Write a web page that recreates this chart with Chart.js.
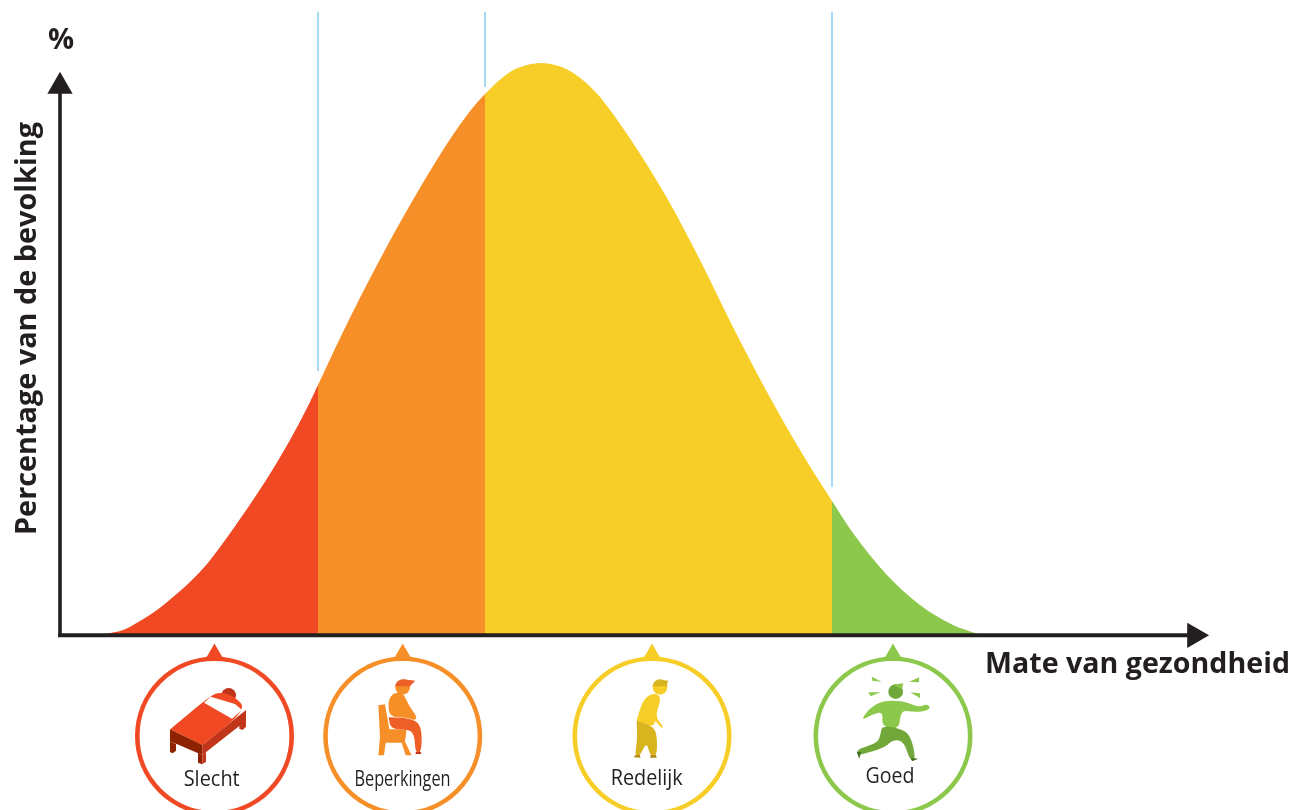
<!DOCTYPE html>
<html>
<head>
<meta charset="utf-8">
<title>Mate van gezondheid</title>
<script src="https://cdn.jsdelivr.net/npm/chart.js@4"></script>
<style>
    html, body { margin: 0; padding: 0; background: #fff; overflow: hidden; }
    canvas { display: block; }
</style>
</head>
<body>
<canvas id="chart" width="1295" height="810"></canvas>
<script>
// data
const curveX = [45, 63, 80, 97, 113, 130, 147, 163, 180, 197, 213, 230, 247, 258, 283, 317, 350, 383, 407, 425, 450, 465, 481, 497, 510, 525, 540, 573, 607, 640, 673, 707, 740, 772, 793, 827, 860, 893, 915, 918];
const curveY = [0, 4, 13, 24, 37, 52, 70, 91, 115, 140, 165, 194, 226, 249, 302, 369, 429, 484, 519, 540, 562, 568.5, 571, 568.5, 563, 552, 537, 491, 436, 374, 307, 242, 184, 133, 101, 59, 29, 9, 1, 0];
const bandEdges = [45, 258, 425, 772, 918];
const bandColors = ["#f04923", "#f78f28", "#f6ce27", "#8cc84b"];
const edgeTops = [263, 547, 147];
const categories = ["Slecht", "Beperkingen", "Redelijk", "Goed"];
const categoryX = [154.5, 342.7, 592, 833];
const categoryLabelX = [211.7, 402.5, 646.7, 890];
const categoryLabelY = [786, 786, 785, 783];
const categoryLabelW = [56, 96, 72, 49];
const xTitle = "Mate van gezondheid";
const yTitle = "Percentage van de bevolking";
const yUnit = "%";

const circleY = -102;
const markerY = -21;
const axisY = -1.3;
const ink = "#231f20";

// which band a piece of the curve falls in
function bandColor(x) {
    for (let b = 0; b < bandColors.length; b++) {
        if (x < bandEdges[b + 1]) return bandColors[b];
    }
    return bandColors[bandColors.length - 1];
}

const edgeLines = edgeTops.map((top, i) => ({
    data: [{ x: bandEdges[i + 1], y: top }, { x: bandEdges[i + 1], y: 622 }],
    borderColor: "#a5dcf5",
    borderWidth: 2,
    pointRadius: 0,
    fill: false
}));

const datasets = [
    // arrow heads
    {
        data: [{ x: 1134.5, y: axisY }, { x: 0, y: 547.6 }],
        showLine: false,
        pointStyle: "triangle",
        pointRadius: 14.6,
        pointBorderWidth: 0,
        pointRotation: [90, 0],
        pointBackgroundColor: ink
    },
    // axis lines
    { data: [{ x: -2, y: axisY }, { x: 1128, y: axisY }], borderColor: ink, borderWidth: 4, pointRadius: 0, fill: false },
    { data: [{ x: 0, y: axisY }, { x: 0, y: 542 }], borderColor: ink, borderWidth: 3.6, pointRadius: 0, fill: false },
    // category markers
    {
        data: categoryX.map(x => ({ x: x, y: markerY })),
        showLine: false,
        pointStyle: "triangle",
        pointRadius: 11.5,
        pointBorderWidth: 0,
        pointBackgroundColor: bandColors
    },
    {
        data: categoryX.map(x => ({ x: x, y: circleY })),
        showLine: false,
        pointStyle: "circle",
        pointRadius: 77.2,
        pointBorderWidth: 4.6,
        pointBackgroundColor: "rgba(0,0,0,0)",
        pointBorderColor: bandColors
    },
    ...edgeLines,
    // the curve
    {
        data: curveX.map((x, i) => ({ x: x, y: curveY[i] })),
        borderWidth: 0,
        pointRadius: 0,
        cubicInterpolationMode: "monotone",
        backgroundColor: bandColors[0],
        fill: { value: 0 },
        segment: { backgroundColor: c => bandColor(c.p0.parsed.x) }
    }
];
datasets.forEach(d => { d.clip = false; });

// small helpers for the pictograms, coordinates are in 3x crop space
function poly(ctx, color, pts) {
    ctx.fillStyle = color;
    ctx.beginPath();
    for (let i = 0; i < pts.length; i += 2) {
        if (i == 0) ctx.moveTo(pts[i], pts[i + 1]);
        else ctx.lineTo(pts[i], pts[i + 1]);
    }
    ctx.closePath();
    ctx.fill();
}
// same as poly but rounds the corners
function blob(ctx, color, pts) {
    const n = pts.length / 2;
    ctx.fillStyle = color;
    ctx.beginPath();
    ctx.moveTo((pts[0] + pts[2]) / 2, (pts[1] + pts[3]) / 2);
    for (let i = 1; i <= n; i++) {
        const a = i % n;
        const b = (i + 1) % n;
        ctx.quadraticCurveTo(pts[a * 2], pts[a * 2 + 1], (pts[a * 2] + pts[b * 2]) / 2, (pts[a * 2 + 1] + pts[b * 2 + 1]) / 2);
    }
    ctx.closePath();
    ctx.fill();
}
function disc(ctx, color, x, y, r, from, to) {
    ctx.fillStyle = color;
    ctx.beginPath();
    ctx.arc(x, y, r, from === undefined ? 0 : from, to === undefined ? Math.PI * 2 : to);
    ctx.closePath();
    ctx.fill();
}

const icons = [
    // bed
    function (ctx) {
        disc(ctx, "#bf3318", 326, 196, 22);
        poly(ctx, "#c1351a", [247, 345, 378, 240, 378, 272, 247, 375]);
        poly(ctx, "#c1351a", [358, 275, 378, 262, 378, 290, 368, 300, 358, 296]);
        blob(ctx, "#f04923", [150, 298, 150, 298, 270, 198, 300, 186, 345, 200, 380, 240, 247, 345, 247, 345]);
        poly(ctx, "#ffffff", [252, 218, 272, 200, 345, 222, 366, 240, 336, 266]);
        poly(ctx, "#8f2200", [150, 298, 247, 345, 247, 375, 170, 342, 150, 335]);
        poly(ctx, "#8f2200", [150, 335, 168, 342, 168, 362, 158, 370, 150, 366]);
        poly(ctx, "#8f2200", [234, 368, 247, 375, 247, 403, 234, 398]);
        poly(ctx, "#c1351a", [247, 375, 258, 366, 258, 395, 247, 403]);
    },
    // sitting person
    function (ctx) {
        poly(ctx, "#f78f28", [775, 226, 795, 223, 808, 298, 860, 298, 855, 335, 875, 376, 857, 376, 845, 338, 797, 338, 792, 376, 775, 376, 780, 320]);
        blob(ctx, "#f78f28", [808, 262, 804, 212, 820, 188, 850, 188, 865, 225, 893, 262, 882, 272, 860, 262]);
        disc(ctx, "#f78f28", 848, 172, 22);
        disc(ctx, "#ee5f27", 848, 170, 22, Math.PI * 1.02, Math.PI * 1.98);
        poly(ctx, "#ee5f27", [850, 148, 886, 152, 868, 170]);
        blob(ctx, "#ee5f27", [806, 262, 806, 262, 870, 264, 905, 285, 905, 368, 886, 368, 884, 320, 870, 298, 812, 298]);
        poly(ctx, "#c1351a", [887, 366, 902, 366, 904, 372, 887, 372]);
    },
    // bent person
    function (ctx) {
        disc(ctx, "#f6ce27", 300, 172, 22);
        disc(ctx, "#d8b41f", 300, 170, 22, Math.PI * 1.02, Math.PI * 1.98);
        poly(ctx, "#d8b41f", [302, 150, 325, 152, 318, 170]);
        blob(ctx, "#f6ce27", [230, 272, 250, 205, 285, 188, 305, 205, 284, 258, 312, 292, 303, 294, 284, 268, 282, 292, 230, 272]);
        blob(ctx, "#d8b41f", [230, 272, 230, 272, 284, 290, 292, 330, 290, 378, 270, 378, 260, 335, 240, 378, 224, 378, 232, 330]);
        poly(ctx, "#b38b1a", [224, 376, 240, 374, 241, 383, 222, 382]);
        poly(ctx, "#b38b1a", [272, 375, 288, 375, 290, 383, 270, 383]);
    },
    // running person
    function (ctx) {
        poly(ctx, "#8cc84b", [935, 140, 965, 155, 937, 152]);
        poly(ctx, "#8cc84b", [1077, 142, 1047, 156, 1077, 157]);
        poly(ctx, "#8cc84b", [925, 187, 962, 187, 932, 199]);
        poly(ctx, "#8cc84b", [1080, 190, 1050, 187, 1080, 204]);
        disc(ctx, "#6fa83a", 1007, 185, 22);
        poly(ctx, "#8cc84b", [1000, 164, 1030, 160, 1026, 178]);
        blob(ctx, "#8cc84b", [903, 272, 925, 238, 965, 212, 1030, 212, 1075, 232, 1100, 222, 1112, 232, 1097, 244, 1060, 246, 1022, 240, 1018, 300, 964, 290, 970, 244, 935, 254]);
        blob(ctx, "#72a83a", [966, 288, 1018, 294, 1052, 315, 1068, 390, 1050, 392, 1032, 335, 1000, 328, 975, 352, 925, 368, 892, 376, 892, 358, 925, 348, 955, 335, 962, 310]);
        poly(ctx, "#3e6f22", [890, 365, 903, 367, 898, 386]);
        poly(ctx, "#3e6f22", [1053, 384, 1075, 386, 1056, 394]);
    }
];
const iconAnchor = [[283.5, 318], [848.1, 318], [276, 318], [999, 318]];

const labelsPlugin = {
    id: "labels",
    afterDatasetsDraw(chart) {
        const ctx = chart.ctx;
        const xs = chart.scales.x;
        const ys = chart.scales.y;

        categories.forEach((name, i) => {
            ctx.save();
            ctx.translate(xs.getPixelForValue(categoryX[i]) - iconAnchor[i][0] / 3, ys.getPixelForValue(circleY) - iconAnchor[i][1] / 3);
            ctx.scale(1 / 3, 1 / 3);
            icons[i](ctx);
            ctx.restore();

            ctx.fillStyle = ink;
            ctx.font = '21px "Open Sans"';
            ctx.textAlign = "center";
            ctx.textBaseline = "alphabetic";
            ctx.fillText(name, categoryLabelX[i], categoryLabelY[i], categoryLabelW[i]);
        });

        ctx.fillStyle = ink;
        ctx.textAlign = "left";
        ctx.font = 'bold 29px "Open Sans"';
        ctx.fillText(xTitle, 985, 673, 305);
        ctx.textAlign = "center";
        ctx.fillText(yUnit, 61, 49);

        ctx.save();
        ctx.translate(36, 328.5);
        ctx.rotate(-Math.PI / 2);
        ctx.fillText(yTitle, 0, 0, 413);
        ctx.restore();
    }
};

new Chart(document.getElementById("chart"), {
    type: "line",
    data: { datasets: datasets },
    options: {
        responsive: false,
        animation: false,
        layout: { autoPadding: false, padding: { left: 60, top: 12, right: 0, bottom: 0 } },
        plugins: { legend: { display: false }, tooltip: { enabled: false } },
        scales: {
            x: { type: "linear", display: false, min: 0, max: 1235 },
            y: { type: "linear", display: false, min: -176, max: 622 }
        }
    },
    plugins: [labelsPlugin]
});
</script>
</body>
</html>
